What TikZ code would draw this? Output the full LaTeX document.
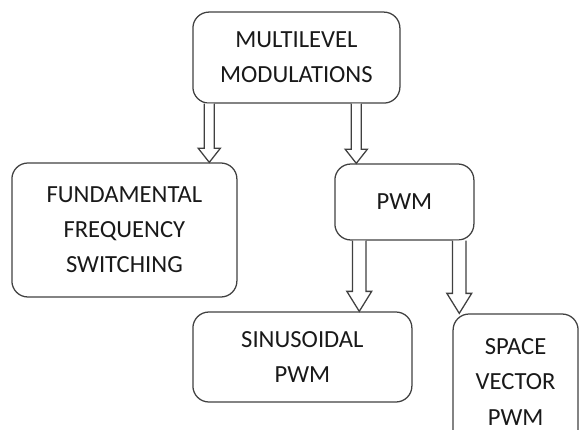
\documentclass[tikz,border=0pt]{standalone}
\usepackage{fontspec}
\setmainfont{Carlito}
\usetikzlibrary{calc}
\def\blockarrow(#1)(#2)(#3:#4:#5){\draw[hollow] ($(#1)+(-#3,0)$) -- ($(#2)+(-#3,#5)$) -- ($(#2)+(-#4,#5)$) -- (#2) -- ($(#2)+(#4,#5)$) -- ($(#2)+(#3,#5)$) -- ($(#1)+(#3,0)$);}
\tikzset{
	box/.style={draw=black!75, line width=0.9pt, rounded corners=0.4cm, align=center,
		font=\fontsize{17.5}{25}\selectfont, text=black!90, inner sep=0pt},
	hollow/.style={draw=black!75, line width=0.9pt, fill=white, line join=miter}
}

\begin{document}
\begin{tikzpicture}
		%%%%% START %%%%%
		\useasboundingbox (0, 0) rectangle (14.5, -10.75);
		\clip (0, 0) rectangle (14.5, -10.75);
		
		\node[box, minimum width=5.175cm, minimum height=2.275cm] (multi) at (7.41, -1.44) {MULTILEVEL\\MODULATIONS};
		\node[box, minimum width=5.625cm, minimum height=3.35cm] (fund) at (3.11, -5.75) {FUNDAMENTAL\\FREQUENCY\\SWITCHING};
		\node[box, minimum width=3.475cm, minimum height=1.9cm] (pwm) at (10.11, -5.05) {PWM};
		\node[box, minimum width=5.475cm, minimum height=2.25cm] (sine) at (7.56, -8.925) {SINUSOIDAL\\PWM};
		\node[box, minimum width=3.125cm, minimum height=3.4cm] (svpwm) at (12.89, -9.55) {SPACE\\VECTOR\\PWM};
		
		\coordinate (a1s) at ($(multi.south west)+(0.425, 0)$);
		\coordinate (a1e) at (a1s |- fund.north);
		\coordinate (a2s) at ($(multi.south west)+(4.1, 0)$);
		\coordinate (a2e) at (a2s |- pwm.north);
		\coordinate (a3s) at ($(pwm.south west)+(0.625, 0)$);
		\coordinate (a3e) at (a3s |- sine.north);
		\coordinate (a4s) at ($(pwm.south west)+(3.125, 0)$);
		\coordinate (a4e) at (a4s |- svpwm.north);
		
		\blockarrow(a1s)(a1e)(0.125:0.275:0.35);
		\blockarrow(a2s)(a2e)(0.125:0.275:0.35);
		\blockarrow(a3s)(a3e)(0.17:0.31:0.5);
		\blockarrow(a4s)(a4e)(0.17:0.31:0.5);
		
		%%%%% END %%%%%
	\end{tikzpicture}
\end{document}
